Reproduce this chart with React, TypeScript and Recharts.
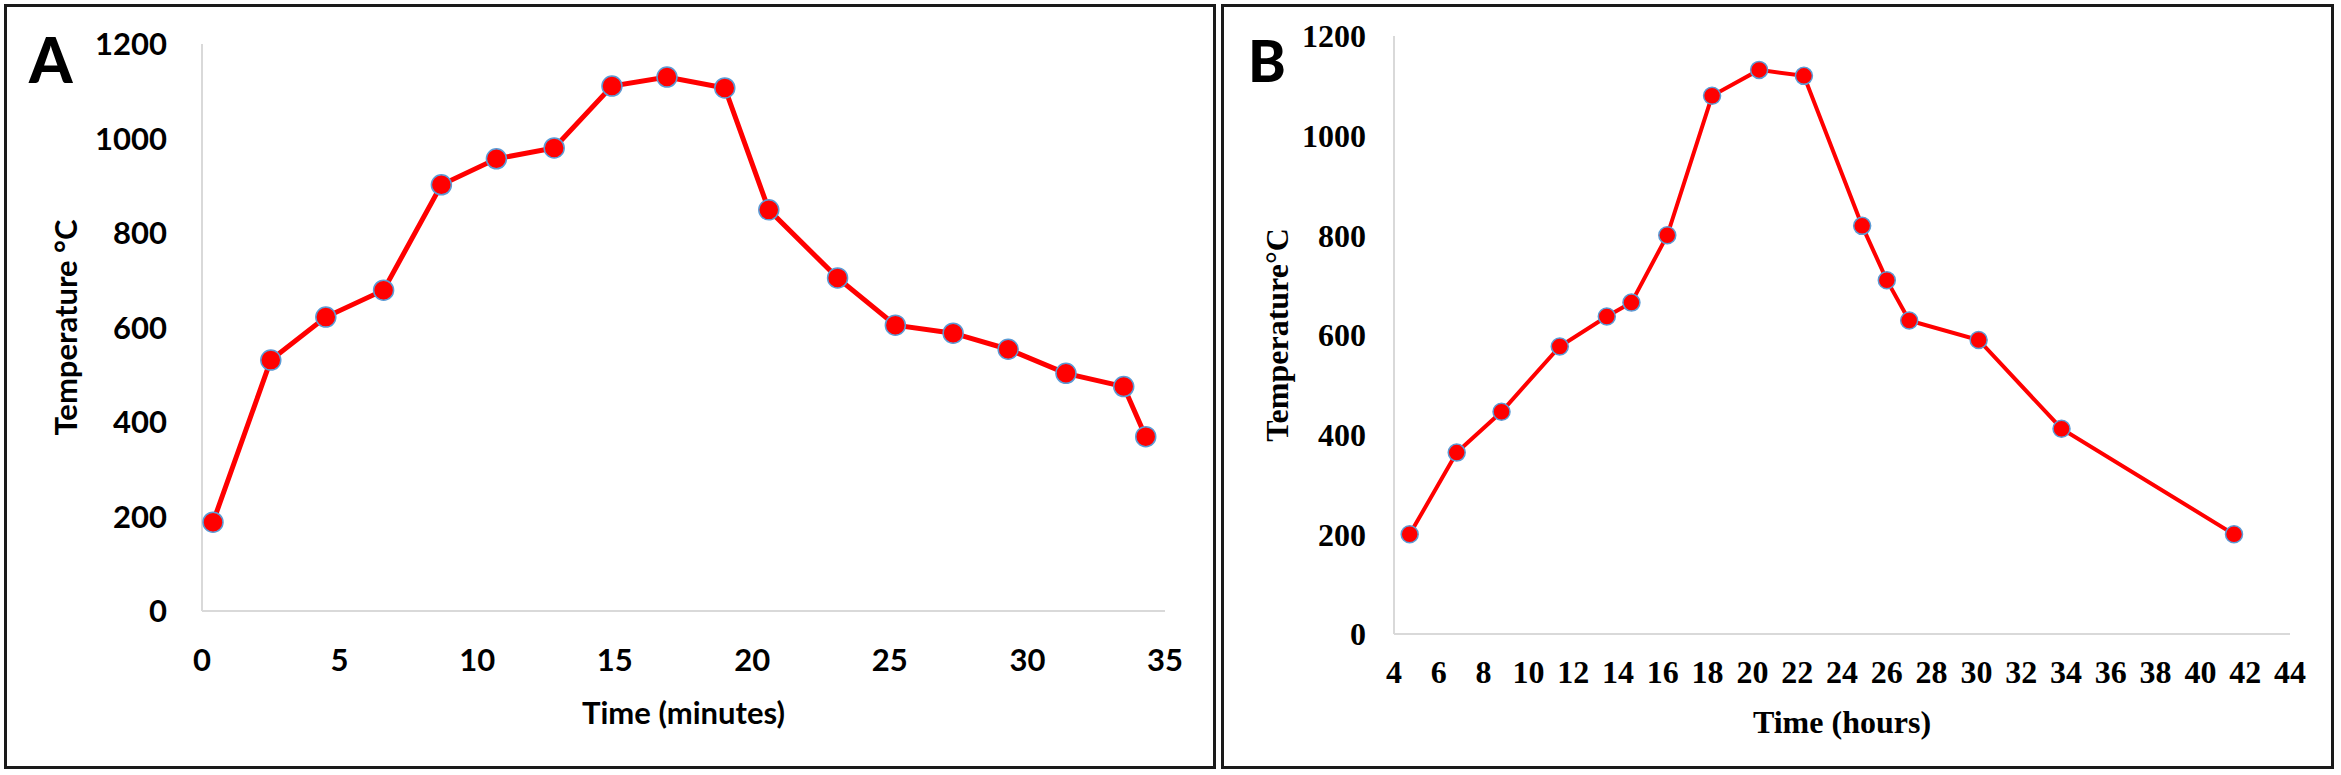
import { LineChart, Line, XAxis, YAxis } from 'recharts';

// Panel A: furnace run, time in minutes
const minutesA = [0.4, 2.5, 4.5, 6.6, 8.7, 10.7, 12.8, 14.9, 16.9, 19.0, 20.6, 23.1, 25.2, 27.3, 29.3, 31.4, 33.5, 34.3];
const tempA = [188, 531, 622, 679, 902, 957, 980, 1111, 1130, 1107, 849, 705, 605, 588, 554, 503, 475, 369];
const ticksA = [0, 5, 10, 15, 20, 25, 30, 35];

// Panel B: kiln run, time in hours
const hoursB = [4.7, 6.8, 8.8, 11.4, 13.5, 14.6, 16.2, 18.2, 20.3, 22.3, 24.9, 26.0, 27.0, 30.1, 33.8, 41.5];
const tempB = [200, 364, 446, 577, 637, 665, 800, 1080, 1132, 1120, 819, 710, 629, 590, 412, 200];
const ticksB = [4, 6, 8, 10, 12, 14, 16, 18, 20, 22, 24, 26, 28, 30, 32, 34, 36, 38, 40, 42, 44];

const tempTicks = [0, 200, 400, 600, 800, 1000, 1200];

const dataA = minutesA.map((t, i) => ({ t, temp: tempA[i] }));
const dataB = hoursB.map((t, i) => ({ t, temp: tempB[i] }));

const sans = 'Lato, "Open Sans", sans-serif';
const serif = '"Liberation Serif", "DejaVu Serif", serif';
const axisGray = { stroke: '#d9d9d9', strokeWidth: 2 };

const frame = (left: number, width: number): React.CSSProperties => ({
  position: 'absolute',
  left,
  top: 4,
  width,
  height: 765,
  border: '3px solid #1a1a1a',
  boxSizing: 'border-box',
});

export default function App() {
  return (
    <div style={{ position: 'absolute', left: 0, top: 0, width: 2341, height: 775, background: '#fff', overflow: 'hidden' }}>
      <div style={frame(4, 1212)} />
      <div style={frame(1221, 1113)} />

      <div style={{ position: 'absolute', left: 0, top: 0 }}>
        <LineChart width={1218} height={775} data={dataA} margin={{ top: 44, right: 53, bottom: 34, left: 0 }}>
          <XAxis
            type="number"
            dataKey="t"
            domain={[0, 35]}
            ticks={ticksA}
            height={130}
            axisLine={axisGray}
            tickLine={false}
            tickMargin={32}
            tick={{ fill: '#000', fontSize: 31, fontWeight: 700, fontFamily: sans }}
            label={{ value: 'Time (minutes)', position: 'insideBottom', offset: 17, fill: '#000', fontSize: 31, fontWeight: 700, fontFamily: sans }}
          />
          <YAxis
            type="number"
            domain={[0, 1200]}
            ticks={tempTicks}
            width={202}
            axisLine={axisGray}
            tickLine={false}
            tickMargin={29}
            tick={{ fill: '#000', fontSize: 31, fontWeight: 700, fontFamily: sans }}
            label={{ value: 'Temperature °C', angle: -90, position: 'insideLeft', offset: 66, fill: '#000', fontSize: 31, fontWeight: 700, fontFamily: sans, style: { textAnchor: 'middle' } }}
          />
          <Line
            type="linear"
            dataKey="temp"
            stroke="#ff0000"
            strokeWidth={5}
            dot={{ r: 10, fill: '#ff0000', stroke: '#5b9bd5', strokeWidth: 1.5 }}
            activeDot={false}
            isAnimationActive={false}
          />
        </LineChart>
      </div>

      <div style={{ position: 'absolute', left: 1218, top: 0 }}>
        <LineChart width={1123} height={775} data={dataB} margin={{ top: 36, right: 51, bottom: 21, left: 0 }}>
          <XAxis
            type="number"
            dataKey="t"
            domain={[4, 44]}
            ticks={ticksB}
            interval={0}
            height={120}
            axisLine={axisGray}
            tickLine={false}
            tickMargin={20}
            tick={{ fill: '#000', fontSize: 32, fontWeight: 700, fontFamily: serif }}
            label={{ value: 'Time (hours)', position: 'insideBottom', offset: 21, fill: '#000', fontSize: 32, fontWeight: 700, fontFamily: serif }}
          />
          <YAxis
            type="number"
            domain={[0, 1200]}
            ticks={tempTicks}
            width={176}
            axisLine={axisGray}
            tickLine={false}
            tickMargin={22}
            tick={{ fill: '#000', fontSize: 32, fontWeight: 700, fontFamily: serif }}
            label={{ value: 'Temperature°C', angle: -90, position: 'insideLeft', offset: 59, fill: '#000', fontSize: 32, fontWeight: 700, fontFamily: serif, style: { textAnchor: 'middle' } }}
          />
          <Line
            type="linear"
            dataKey="temp"
            stroke="#ff0000"
            strokeWidth={4}
            dot={{ r: 8.5, fill: '#ff0000', stroke: '#5b9bd5', strokeWidth: 1.5 }}
            activeDot={false}
            isAnimationActive={false}
          />
        </LineChart>
      </div>

      <div style={{ position: 'absolute', left: 29, top: 28, fontFamily: sans, fontWeight: 900, fontSize: 62, lineHeight: '62px', color: '#000' }}>A</div>
      <div style={{ position: 'absolute', left: 1248, top: 32, fontFamily: sans, fontWeight: 900, fontSize: 57, lineHeight: '57px', color: '#000' }}>B</div>
    </div>
  );
}
